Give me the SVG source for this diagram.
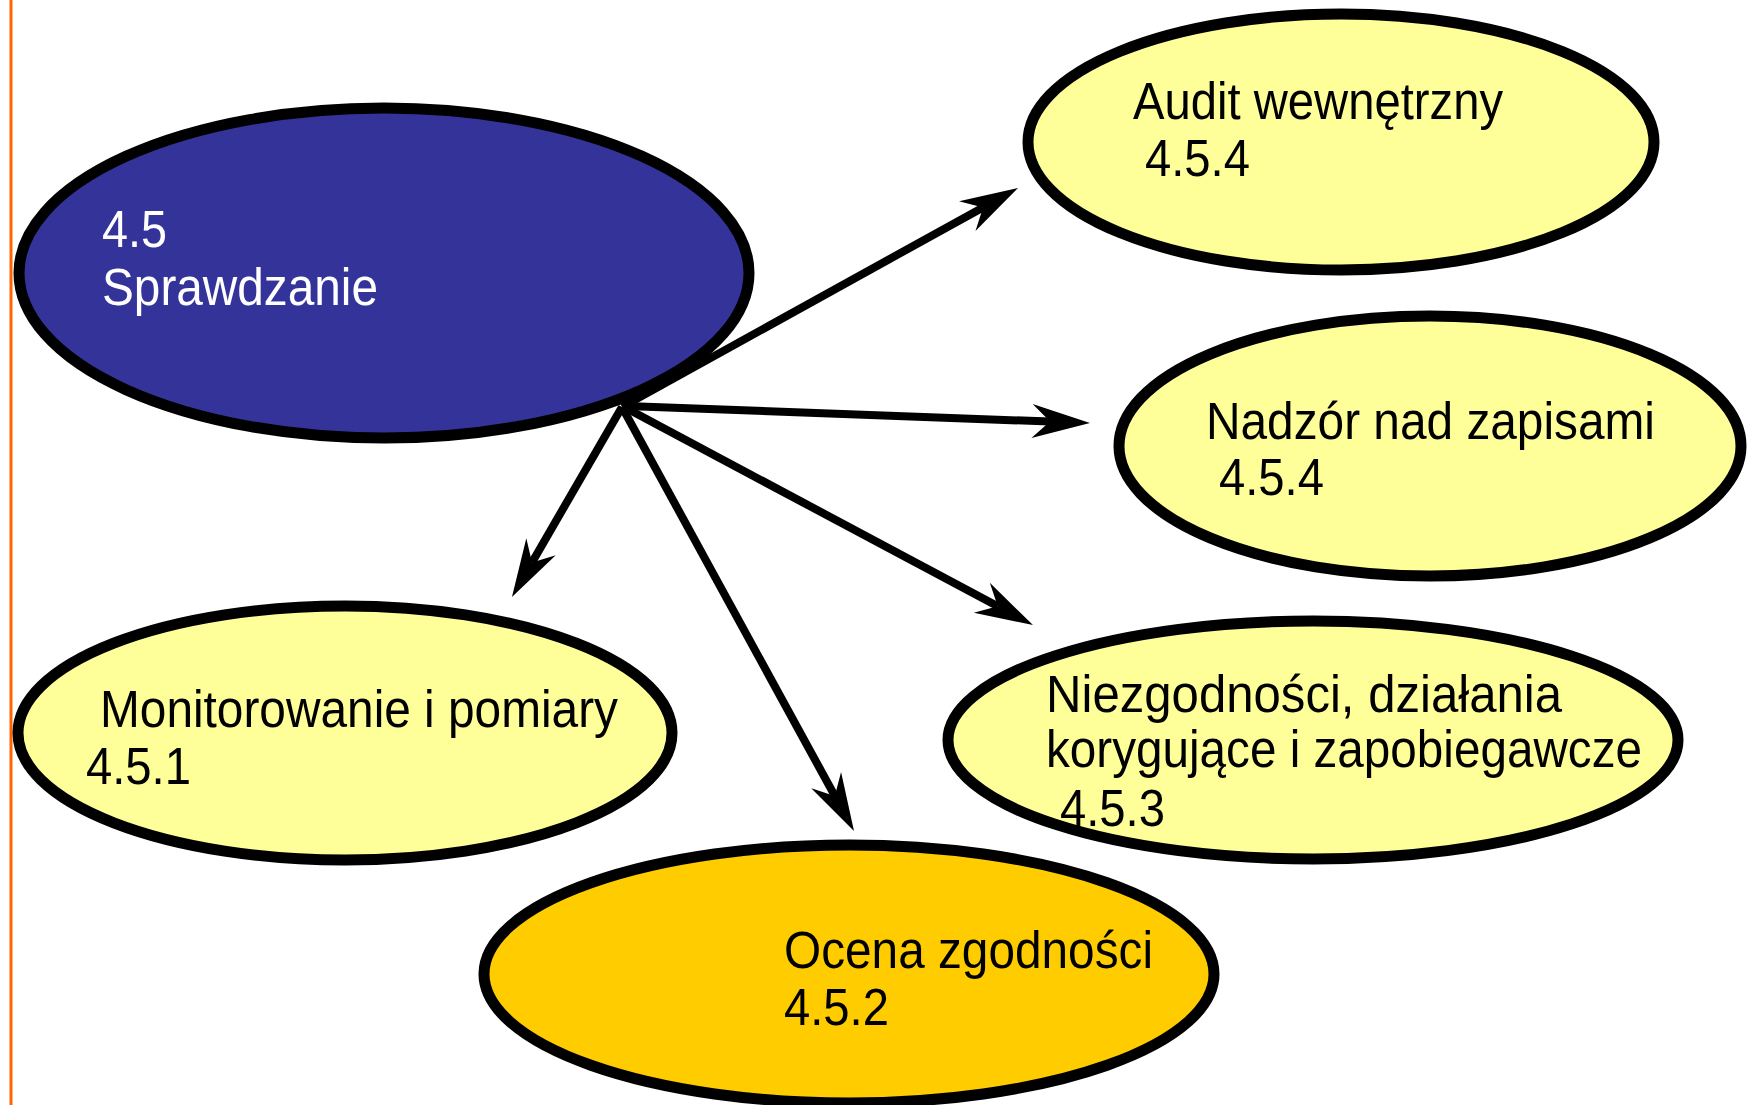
<svg xmlns="http://www.w3.org/2000/svg" width="1759" height="1105" viewBox="0 0 1759 1105">
<style>
.node{stroke:#000;stroke-width:11}
.y{fill:#FFFF99}
.t{font-family:"Liberation Sans",Arial,sans-serif;font-size:51px;fill:#000}
.w{fill:#fff}
.c{stroke:#000;stroke-width:8;fill:none}
</style>
<defs>
<marker id="ah" markerUnits="userSpaceOnUse" orient="auto" refX="0" refY="0" markerWidth="70" markerHeight="50" viewBox="-25 -25 70 50" overflow="visible">
<path d="M40,0 L-18,-17 L0,0 L-18,17 Z" fill="#000"/>
</marker>
</defs>
<rect width="1759" height="1105" fill="#fff"/>
<line x1="11" y1="0" x2="11" y2="1105" stroke="#FF6600" stroke-width="3"/>

<g id="sprawdzanie">
<ellipse class="node" cx="384" cy="273" rx="365" ry="165" fill="#333399"/>
<text class="t w" x="102" y="247" textLength="65" lengthAdjust="spacingAndGlyphs">4.5</text>
<text class="t w" x="102" y="305" textLength="276" lengthAdjust="spacingAndGlyphs">Sprawdzanie</text>
</g>

<g id="audit">
<ellipse class="node y" cx="1341" cy="142" rx="313" ry="128"/>
<text class="t" x="1133" y="119" textLength="370" lengthAdjust="spacingAndGlyphs">Audit wewnętrzny</text>
<text class="t" x="1145" y="176" textLength="105" lengthAdjust="spacingAndGlyphs">4.5.4</text>
</g>

<g id="nadzor">
<ellipse class="node y" cx="1430" cy="446" rx="311" ry="130"/>
<text class="t" x="1206" y="439" textLength="449" lengthAdjust="spacingAndGlyphs">Nadzór nad zapisami</text>
<text class="t" x="1219" y="495" textLength="105" lengthAdjust="spacingAndGlyphs">4.5.4</text>
</g>

<g id="niezgodnosci">
<ellipse class="node y" cx="1313" cy="740" rx="365" ry="119"/>
<text class="t" x="1046" y="712" textLength="516" lengthAdjust="spacingAndGlyphs">Niezgodności, działania</text>
<text class="t" x="1046" y="767" textLength="596" lengthAdjust="spacingAndGlyphs">korygujące i zapobiegawcze</text>
<text class="t" x="1060" y="826" textLength="105" lengthAdjust="spacingAndGlyphs">4.5.3</text>
</g>

<g id="monitorowanie">
<ellipse class="node y" cx="345" cy="733" rx="327" ry="127"/>
<text class="t" x="100" y="727" textLength="518" lengthAdjust="spacingAndGlyphs">Monitorowanie i pomiary</text>
<text class="t" x="86" y="784" textLength="105" lengthAdjust="spacingAndGlyphs">4.5.1</text>
</g>

<g id="ocena">
<ellipse class="node" cx="849" cy="974" rx="365" ry="129" fill="#FFCC00"/>
<text class="t" x="784" y="968" textLength="369" lengthAdjust="spacingAndGlyphs">Ocena zgodności</text>
<text class="t" x="784" y="1025" textLength="105" lengthAdjust="spacingAndGlyphs">4.5.2</text>
</g>

<g id="connectors">
<line class="c" x1="622" y1="407" x2="983" y2="207.4" marker-end="url(#ah)"/>
<line class="c" x1="626" y1="406" x2="1050" y2="421.6" marker-end="url(#ah)"/>
<line class="c" x1="624" y1="407" x2="997.7" y2="606.3" marker-end="url(#ah)"/>
<line class="c" x1="622" y1="407" x2="834.8" y2="795.9" marker-end="url(#ah)"/>
<line class="c" x1="622" y1="407" x2="532" y2="562.4" marker-end="url(#ah)"/>
</g>
</svg>
